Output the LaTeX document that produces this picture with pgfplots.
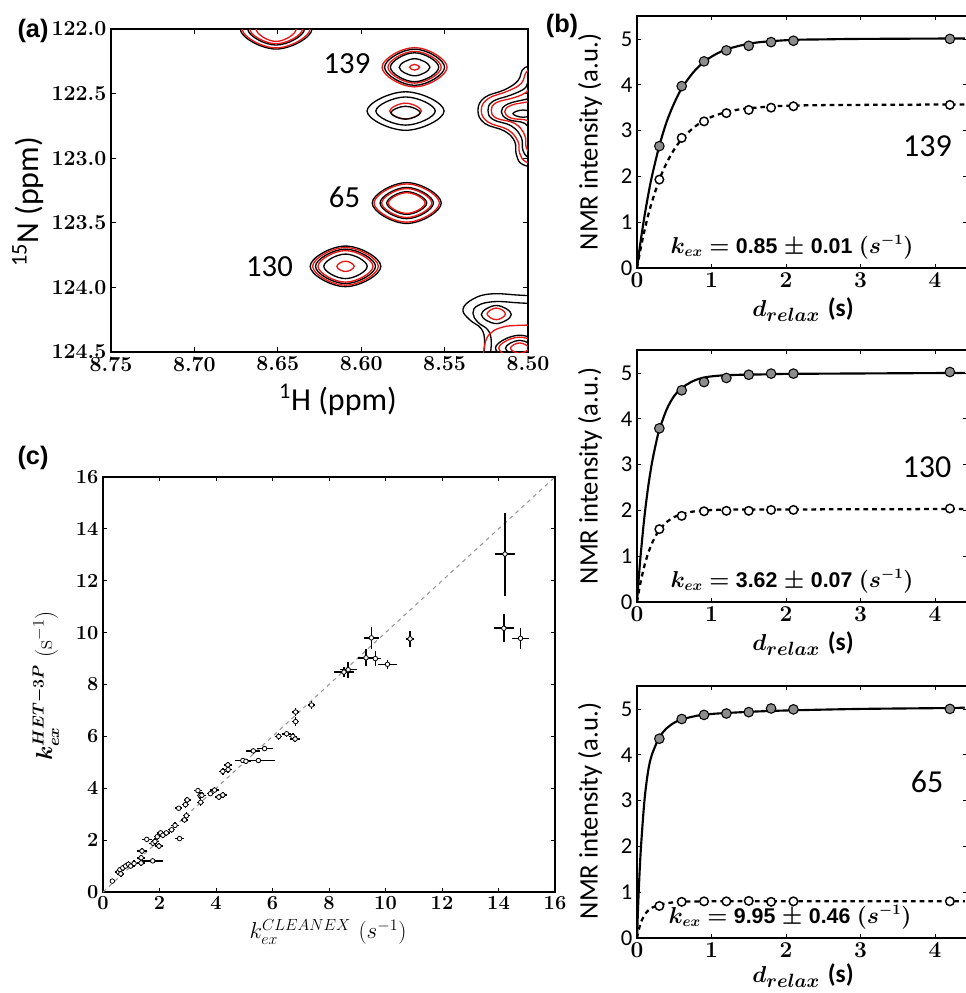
\documentclass[border=0pt]{standalone}
\usepackage{pgfplots}
\usepackage{pgfplotstable}
\pgfplotsset{compat=1.18}
\usepackage{fontspec}
\newfontfamily\carlito{Carlito}
\newfontfamily\libsans{Liberation Sans}
\definecolor{cred}{RGB}{230,25,25}
\definecolor{mgray}{RGB}{150,150,150}
\definecolor{dotgray}{RGB}{140,140,140}
\newcommand{\kexlabel}[2]{{\fontsize{16}{16}\selectfont\boldmath$k_{ex}$ $=$ {\libsans\bfseries #1} $\pm$ {\libsans\bfseries #2} $(s^{-1})$}}
\newcommand{\dlabel}{{\fontsize{19}{19}\selectfont\boldmath$d_{relax}$ {\carlito\bfseries (s)}}}

\pgfplotstableread{
x y ex ey
0.33 0.42 0.04 0.04
0.55 0.77 0.12 0.12
0.60 0.86 0.12 0.12
0.63 0.70 0.12 0.12
0.70 0.93 0.12 0.12
0.80 1.00 0.12 0.12
0.90 1.07 0.12 0.12
0.98 1.00 0.12 0.12
1.10 1.10 0.13 0.12
1.35 1.32 0.13 0.12
1.35 1.12 0.13 0.12
1.38 1.58 0.17 0.12
1.76 1.20 0.38 0.10
1.55 2.03 0.17 0.10
1.77 1.88 0.13 0.12
1.84 1.95 0.13 0.12
1.92 2.13 0.13 0.12
1.98 1.77 0.13 0.13
2.04 2.28 0.13 0.12
2.12 2.19 0.13 0.12
2.24 2.28 0.13 0.12
2.43 2.40 0.13 0.12
2.55 2.57 0.13 0.12
2.71 2.06 0.17 0.10
2.68 3.23 0.13 0.10
2.88 2.78 0.13 0.13
2.95 2.94 0.13 0.13
2.92 3.37 0.13 0.12
2.98 3.55 0.13 0.12
3.36 3.91 0.15 0.10
3.44 3.72 0.13 0.13
3.50 3.73 0.13 0.12
3.46 3.46 0.13 0.13
3.80 3.79 0.13 0.10
3.95 3.93 0.15 0.10
4.10 3.66 0.15 0.10
4.24 3.74 0.15 0.10
4.24 4.65 0.15 0.12
4.43 4.72 0.13 0.13
4.42 4.90 0.13 0.13
4.95 5.07 0.27 0.10
5.06 5.04 0.17 0.10
5.50 5.07 0.58 0.10
5.32 5.44 0.25 0.10
5.72 5.53 0.28 0.10
6.22 6.00 0.13 0.13
6.50 6.10 0.15 0.12
6.72 6.00 0.15 0.13
6.80 5.90 0.17 0.13
6.82 6.57 0.13 0.17
6.82 6.94 0.13 0.17
7.38 7.21 0.13 0.14
8.53 8.48 0.35 0.20
8.68 8.57 0.30 0.30
9.31 9.03 0.27 0.32
9.64 9.00 0.20 0.30
10.07 8.78 0.32 0.18
9.50 9.80 0.26 0.42
10.87 9.76 0.15 0.32
14.23 13.03 0.35 1.60
14.19 10.17 0.36 0.54
14.78 9.78 0.29 0.41
}\cdata

\pgfplotsset{
  bpanel/.style={scale only axis, anchor=south west, width=247.5pt, height=189pt,
    xmin=0, xmax=4.43, ymin=0, ymax=5.5, xtick={0,1,2,3,4}, ytick={0,1,2,3,4,5},
    tick align=inside, major tick length=3pt, tick style={black, line width=0.6pt},
    axis line style={line width=2pt},
    /pgf/number format/assume math mode=true,
    xticklabel style={font=\fontsize{17}{17}\selectfont\bfseries},
    yticklabel style={font=\carlito\fontsize{17}{17}\selectfont}},
  solidfit/.style={black, line width=1.6pt, smooth, no marks},
  dotfit/.style={black, line width=1.7pt, smooth, no marks, dash pattern=on 3.5pt off 3pt},
  fullpts/.style={only marks, mark=*, mark size=3.6pt, mark options={fill=dotgray, draw=black, line width=0.8pt}},
  openpts/.style={only marks, mark=*, mark size=3.2pt, mark options={fill=white, draw=black, line width=1.1pt}},
  bk/.style={black, line width=1pt, smooth cycle, tension=0.74, no marks},
  rd/.style={cred, line width=1pt, smooth cycle, tension=0.74, no marks},
  bko/.style={black, line width=1pt, smooth, tension=0.7, no marks},
  rdo/.style={cred, line width=1pt, smooth, tension=0.7, no marks},
}

\begin{document}
\begin{tikzpicture}
\useasboundingbox (0,0) rectangle (723.75pt,-744.75pt);

% ---------------- panel (a)
\begin{axis}[scale only axis, at={(83.25pt,-264pt)}, anchor=south west,
  width=312.75pt, height=242.25pt,
  xmin=8.50, xmax=8.75, x dir=reverse, ymin=122.0, ymax=124.5, y dir=reverse,
  xtick={8.50,8.55,8.60,8.65,8.70,8.75}, ytick={122.0,122.5,123.0,123.5,124.0,124.5},
  scaled ticks=false, tick align=inside, major tick length=3.5pt,
  tick style={black, line width=0.6pt}, axis line style={line width=1.2pt},
  /pgf/number format/assume math mode=true,
  xticklabel style={font=\fontsize{16}{16}\selectfont\bfseries, /pgf/number format/fixed, /pgf/number format/fixed zerofill, /pgf/number format/precision=2},
  yticklabel style={font=\fontsize{16}{16}\selectfont\bfseries, /pgf/number format/fixed, /pgf/number format/fixed zerofill, /pgf/number format/precision=1},
  clip=true]
% top peak
\addplot[bk] coordinates {(8.6725,122.0) (8.651,122.155) (8.6295,122.0) (8.651,121.845)};
\addplot[rd] coordinates {(8.6713,122.0) (8.651,122.146) (8.6307,122.0) (8.651,121.854)};
\addplot[bk] coordinates {(8.668,122.0) (8.651,122.124) (8.634,122.0) (8.651,121.876)};
\addplot[rd] coordinates {(8.6668,122.0) (8.651,122.114) (8.6352,122.0) (8.651,121.886)};
\addplot[rd] coordinates {(8.663,122.0) (8.651,122.096) (8.639,122.0) (8.651,121.904)};
% peak 139
\addplot[rd] coordinates {(8.5875,122.296) (8.568,122.448) (8.5485,122.296) (8.568,122.144)};
\addplot[bk] coordinates {(8.586,122.296) (8.568,122.436) (8.550,122.296) (8.568,122.156)};
\addplot[rd] coordinates {(8.584,122.296) (8.568,122.419) (8.552,122.296) (8.568,122.173)};
\addplot[bk] coordinates {(8.5825,122.296) (8.568,122.408) (8.5535,122.296) (8.568,122.184)};
\addplot[bk] coordinates {(8.5772,122.296) (8.568,122.362) (8.5588,122.296) (8.568,122.230)};
\addplot[rd] coordinates {(8.571,122.296) (8.568,122.318) (8.565,122.296) (8.568,122.274)};
% unlabeled peak
\addplot[bk] coordinates {(8.5965,122.635) (8.5734,122.784) (8.5503,122.635) (8.5734,122.486)};
\addplot[bk] coordinates {(8.5912,122.635) (8.5734,122.744) (8.5556,122.635) (8.5734,122.526)};
\addplot[rd] coordinates {(8.5829,122.635) (8.5734,122.696) (8.5639,122.635) (8.5734,122.574)};
\addplot[bk] coordinates {(8.5822,122.648) (8.5734,122.698) (8.5646,122.648) (8.5734,122.598)};
% peak 65
\addplot[bk] coordinates {(8.5934,123.347) (8.5727,123.505) (8.5520,123.347) (8.5727,123.189)};
\addplot[rd] coordinates {(8.5923,123.347) (8.5727,123.495) (8.5531,123.347) (8.5727,123.199)};
\addplot[bk] coordinates {(8.5887,123.347) (8.5727,123.468) (8.5567,123.347) (8.5727,123.226)};
\addplot[rd] coordinates {(8.5877,123.347) (8.5727,123.459) (8.5577,123.347) (8.5727,123.235)};
\addplot[bk] coordinates {(8.5847,123.347) (8.5727,123.435) (8.5607,123.347) (8.5727,123.259)};
\addplot[rd] coordinates {(8.5837,123.347) (8.5727,123.427) (8.5617,123.347) (8.5727,123.267)};
% peak 130
\addplot[bk] coordinates {(8.6306,123.837) (8.6094,123.994) (8.5882,123.837) (8.6094,123.680)};
\addplot[rd] coordinates {(8.6291,123.837) (8.6094,123.983) (8.5897,123.837) (8.6094,123.691)};
\addplot[bk] coordinates {(8.6274,123.837) (8.6094,123.970) (8.5914,123.837) (8.6094,123.704)};
\addplot[rd] coordinates {(8.6259,123.837) (8.6094,123.959) (8.5929,123.837) (8.6094,123.715)};
\addplot[bk] coordinates {(8.6224,123.837) (8.6094,123.932) (8.5964,123.837) (8.6094,123.742)};
\addplot[rd] coordinates {(8.6146,123.837) (8.6094,123.877) (8.6042,123.837) (8.6094,123.797)};
% right edge group near 122.65
\addplot[bko] coordinates {(8.490,122.27) (8.502,122.30) (8.506,122.40) (8.514,122.47) (8.526,122.53) (8.530,122.63) (8.526,122.73) (8.514,122.79) (8.508,122.87) (8.507,122.97) (8.503,123.05) (8.490,123.08)};
\addplot[rdo] coordinates {(8.490,122.29) (8.500,122.32) (8.504,122.42) (8.512,122.48) (8.524,122.54) (8.528,122.63) (8.524,122.72) (8.512,122.78) (8.506,122.87) (8.505,122.96) (8.501,123.03) (8.490,123.06)};
\addplot[bko] coordinates {(8.490,122.36) (8.499,122.40) (8.502,122.46) (8.510,122.51) (8.521,122.56) (8.524,122.63) (8.521,122.70) (8.510,122.75) (8.504,122.84) (8.503,122.94) (8.499,123.0) (8.490,123.02)};
\addplot[rdo] coordinates {(8.490,122.40) (8.498,122.44) (8.501,122.49) (8.508,122.53) (8.519,122.57) (8.522,122.63) (8.519,122.69) (8.508,122.73) (8.502,122.82) (8.501,122.92) (8.497,122.97) (8.490,122.98)};
\addplot[bko] coordinates {(8.490,122.50) (8.500,122.54) (8.512,122.58) (8.516,122.64) (8.512,122.70) (8.502,122.73) (8.499,122.80) (8.497,122.88) (8.490,122.92)};
\addplot[rdo] coordinates {(8.490,122.52) (8.499,122.56) (8.510,122.59) (8.514,122.64) (8.510,122.69) (8.500,122.71) (8.497,122.78) (8.490,122.84)};
\addplot[bk] coordinates {(8.509,122.655) (8.503,122.683) (8.497,122.655) (8.503,122.627)};
% bottom right group
\addplot[bko] coordinates {(8.490,124.07) (8.505,124.06) (8.522,124.05) (8.533,124.09) (8.539,124.17) (8.535,124.25) (8.528,124.32) (8.526,124.42) (8.527,124.55)};
\addplot[bko] coordinates {(8.490,124.13) (8.505,124.12) (8.520,124.11) (8.530,124.14) (8.533,124.20) (8.530,124.27) (8.524,124.33) (8.522,124.42) (8.523,124.55)};
\addplot[bk] coordinates {(8.528,124.21) (8.519,124.28) (8.510,124.21) (8.519,124.14)};
\addplot[rd] coordinates {(8.5245,124.205) (8.519,124.25) (8.5135,124.205) (8.519,124.16)};
\addplot[rdo] coordinates {(8.527,124.55) (8.5255,124.42) (8.522,124.35) (8.516,124.31) (8.508,124.295) (8.490,124.29)};
\addplot[bk] coordinates {(8.5195,124.47) (8.505,124.57) (8.4905,124.47) (8.505,124.37)};
\addplot[rd] coordinates {(8.5175,124.47) (8.505,124.555) (8.4925,124.47) (8.505,124.385)};
\addplot[bk] coordinates {(8.5135,124.47) (8.505,124.53) (8.4965,124.47) (8.505,124.41)};
\addplot[rd] coordinates {(8.5105,124.47) (8.505,124.51) (8.4995,124.47) (8.505,124.43)};
\end{axis}

% ---------------- panel (b) top : 139
\begin{axis}[bpanel, at={(477.75pt,-201pt)}]
\addplot[dotfit] coordinates {(0,0) (0.05,0.434) (0.1,0.815) (0.15,1.15) (0.2,1.44) (0.3,1.93) (0.4,2.30) (0.5,2.59) (0.6,2.81) (0.75,3.05) (0.9,3.22) (1.05,3.33) (1.2,3.40) (1.4,3.47) (1.6,3.50) (1.8,3.527) (2.1,3.545) (2.5,3.555) (3,3.56) (4.4,3.57)};
\addplot[solidfit] coordinates {(0,0) (0.05,0.60) (0.1,1.125) (0.15,1.59) (0.2,2.0) (0.3,2.67) (0.4,3.20) (0.5,3.60) (0.6,3.92) (0.75,4.26) (0.9,4.50) (1.05,4.66) (1.2,4.77) (1.4,4.86) (1.6,4.92) (1.8,4.95) (2.1,4.98) (2.5,4.99) (3,5.0) (4.4,5.01)};
\addplot[openpts] coordinates {(0.3,1.93) (0.6,2.84) (0.9,3.20) (1.2,3.38) (1.5,3.45) (1.8,3.50) (2.1,3.53) (4.2,3.56)};
\addplot[fullpts] coordinates {(0.3,2.66) (0.6,3.97) (0.9,4.51) (1.2,4.75) (1.5,4.85) (1.8,4.93) (2.1,4.96) (4.2,5.0)};
\end{axis}

% ---------------- panel (b) middle : 130
\begin{axis}[bpanel, at={(477.75pt,-451.5pt)}]
\addplot[dotfit] coordinates {(0,0) (0.02,0.192) (0.05,0.447) (0.1,0.795) (0.15,1.066) (0.2,1.277) (0.25,1.441) (0.3,1.57) (0.4,1.747) (0.5,1.854) (0.6,1.919) (0.75,1.973) (0.9,1.998) (1.1,2.012) (1.4,2.018) (2,2.02) (4.4,2.03)};
\addplot[solidfit] coordinates {(0,0) (0.02,0.447) (0.05,1.04) (0.1,1.864) (0.15,2.515) (0.2,3.03) (0.25,3.43) (0.3,3.76) (0.4,4.21) (0.5,4.50) (0.6,4.67) (0.75,4.82) (0.9,4.90) (1.1,4.94) (1.4,4.96) (1.8,4.97) (2.1,4.98) (4.4,5.0)};
\addplot[openpts] coordinates {(0.3,1.59) (0.6,1.88) (0.9,1.98) (1.2,1.99) (1.5,1.99) (1.8,2.01) (2.1,2.01) (4.2,2.04)};
\addplot[fullpts] coordinates {(0.3,3.79) (0.6,4.62) (0.9,4.80) (1.2,4.89) (1.5,4.96) (1.8,4.985) (2.1,4.985) (4.2,5.02)};
\end{axis}

% ---------------- panel (b) bottom : 65
\begin{axis}[bpanel, at={(477.75pt,-703.5pt)}]
\addplot[dotfit] coordinates {(0,0) (0.02,0.15) (0.05,0.33) (0.1,0.5) (0.15,0.6) (0.2,0.66) (0.3,0.72) (0.4,0.76) (0.6,0.79) (1,0.80) (4.4,0.80)};
\addplot[solidfit] coordinates {(0,0) (0.02,0.9) (0.05,1.9) (0.1,3.0) (0.15,3.65) (0.2,4.0) (0.3,4.38) (0.4,4.58) (0.5,4.70) (0.6,4.77) (0.8,4.85) (1.0,4.89) (1.3,4.92) (1.7,4.95) (2.1,4.97) (3,5.0) (4.2,5.02) (4.4,5.03)};
\addplot[openpts] coordinates {(0.3,0.70) (0.6,0.79) (0.9,0.80) (1.2,0.80) (1.5,0.81) (1.8,0.79) (2.1,0.80) (4.2,0.80)};
\addplot[fullpts] coordinates {(0.3,4.35) (0.6,4.78) (0.9,4.87) (1.2,4.90) (1.5,4.93) (1.8,5.01) (2.1,4.99) (4.2,5.0)};
\end{axis}

% ---------------- panel (c)
\begin{axis}[scale only axis, at={(77.25pt,-669pt)}, anchor=south west,
  width=339pt, height=311.25pt,
  xmin=0, xmax=16, ymin=0, ymax=16, xtick={0,2,...,16}, ytick={0,2,...,16},
  tick align=inside, major tick length=3pt, tick style={black, line width=0.6pt},
  axis line style={line width=2.2pt},
  /pgf/number format/assume math mode=true,
  ticklabel style={font=\fontsize{15}{15}\selectfont\bfseries}]
\addplot[mgray, line width=0.8pt, dash pattern=on 3pt off 3pt, no marks] coordinates {(0,0) (16,16)};
\addplot[only marks, mark=*, mark size=1.7pt, mark options={fill=white, draw=black, line width=0.6pt},
  error bars/.cd, x dir=both, x explicit, y dir=both, y explicit, error mark=none,
  error bar style={black, line width=1.1pt}]
  table[x=x, y=y, x error=ex, y error=ey] {\cdata};
\end{axis}

% ---------------- texts
\node[font=\libsans\bfseries\fontsize{19}{19}\selectfont] at (24.75pt,-23.25pt) {(a)};
\node[font=\libsans\bfseries\fontsize{19}{19}\selectfont] at (421.5pt,-19.5pt) {(b)};
\node[font=\libsans\bfseries\fontsize{19}{19}\selectfont] at (24.75pt,-343.5pt) {(c)};

\node[font=\carlito\fontsize{23}{23}\selectfont] at (260.25pt,-48pt) {139};
\node[font=\carlito\fontsize{23}{23}\selectfont] at (258.4pt,-147.75pt) {65};
\node[font=\carlito\fontsize{23}{23}\selectfont] at (202.1pt,-200.25pt) {130};
\node[font=\carlito\fontsize{24}{24}\selectfont, rotate=90] at (21pt,-151.5pt) {\textsuperscript{15}N (ppm)};
\node[font=\carlito\fontsize{24}{24}\selectfont] at (253.5pt,-300pt) {\textsuperscript{1}H (ppm)};

\node[font=\carlito\fontsize{24}{24}\selectfont] at (695.6pt,-109.9pt) {139};
\node[font=\carlito\fontsize{24}{24}\selectfont] at (695.25pt,-350.25pt) {130};
\node[font=\carlito\fontsize{24}{24}\selectfont] at (695.25pt,-586.5pt) {65};

\node at (594pt,-185.25pt) {{\kexlabel{0.85}{0.01}}};
\node at (594pt,-435.75pt) {{\kexlabel{3.62}{0.07}}};
\node at (592.5pt,-687.75pt) {{\kexlabel{9.95}{0.46}}};

\node[font=\carlito\fontsize{20}{20}\selectfont, rotate=90] at (442.5pt,-106.5pt) {NMR intensity (a.u.)};
\node[font=\carlito\fontsize{20}{20}\selectfont, rotate=90] at (442.5pt,-357pt) {NMR intensity (a.u.)};
\node[font=\carlito\fontsize{20}{20}\selectfont, rotate=90] at (442.5pt,-608.25pt) {NMR intensity (a.u.)};

\node at (602.25pt,-232.5pt) {{\dlabel}};
\node at (602.25pt,-483pt) {{\dlabel}};
\node at (602.25pt,-731.5pt) {{\dlabel}};

\node[rotate=90] at (34.5pt,-514.5pt) {{\fontsize{18.5}{18.5}\selectfont{\boldmath$k_{ex}^{HET-3P}$} $(\mathrm{s}^{-1})$}};
\node at (246pt,-699pt) {{\fontsize{18.5}{18.5}\selectfont $k_{ex}^{CLEANEX}$ $(s^{-1})$}};

\end{tikzpicture}
\end{document}
